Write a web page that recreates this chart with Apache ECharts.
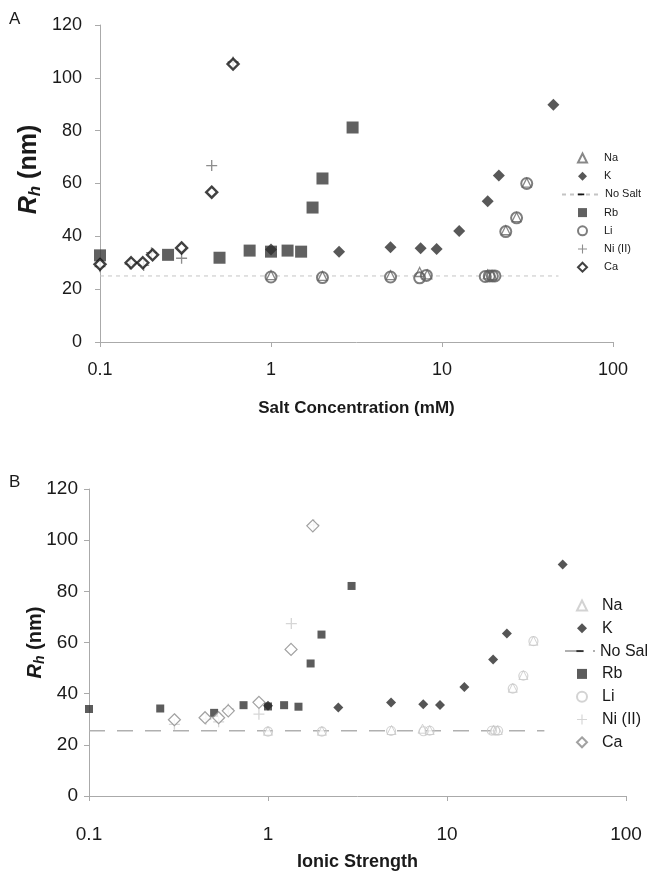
<!DOCTYPE html>
<html>
<head>
<meta charset="utf-8">
<script src="https://cdn.jsdelivr.net/npm/echarts@6/dist/echarts.min.js"></script>
<style>
  html, body { margin: 0; padding: 0; background: #fff; }
  #chart { width: 648px; height: 874px; }
</style>
</head>
<body>
<div id="chart"></div>
<script>
// ---- Panel A: hydrodynamic radius vs salt concentration (mM) ----
const naA = [[1, 25.3], [2, 25], [5, 25.3], [7.4, 26.5], [8.2, 25.6], [18.5, 25.6], [19.6, 25.3], [23.6, 42.3], [27.3, 47.3], [31.3, 60.3]];
const kA = [[1, 35], [2.5, 34.2], [5, 35.9], [7.5, 35.5], [9.3, 35.2], [12.6, 42], [18.5, 53.3], [21.5, 63], [44.8, 89.8]];
const noSaltA = [[0.1, 25], [48, 25]];
const rbA = [[0.1, 32.8], [0.25, 33], [0.5, 31.9], [0.75, 34.6], [1, 34.2], [1.25, 34.6], [1.5, 34.2], [1.75, 50.9], [2, 61.9], [3, 81.2]];
const liA = [[1, 24.6], [2, 24.4], [5, 24.6], [7.4, 24.3], [8.1, 25.2], [17.9, 24.8], [18.9, 25], [19.7, 25], [20.4, 25], [23.6, 41.8], [27.3, 47], [31.3, 60]];
const niA = [[0.1, 28.5], [0.15, 29.5], [0.18, 29], [0.2, 33.8], [0.3, 31.7], [0.45, 66.8], [0.6, 106]];
const caA = [[0.1, 29.4], [0.152, 30], [0.178, 30], [0.203, 33], [0.3, 35.6], [0.45, 56.7], [0.6, 105.2]];

// ---- Panel B: hydrodynamic radius vs ionic strength ----
const naB = [[1, 25.5], [2, 25.5], [4.9, 25.8], [7.3, 26.3], [8, 25.8], [18.2, 26], [19.2, 25.8], [23.3, 42.3], [26.7, 47.3], [30.4, 60.7]];
const kB = [[1, 35.3], [2.47, 34.6], [4.87, 36.5], [7.37, 35.9], [9.14, 35.6], [12.5, 42.6], [18.1, 53.4], [21.6, 63.5], [44.3, 90.5]];
const noSaltB = [[0.1, 25.5], [35, 25.5]];
const rbB = [[0.1, 34], [0.25, 34.2], [0.5, 32.5], [0.73, 35.5], [1, 35], [1.23, 35.5], [1.48, 34.9], [1.73, 51.8], [1.99, 63.1], [2.93, 82.1]];
const liB = [[1, 25.2], [2, 25.2], [4.87, 25.4], [7.4, 25.3], [8, 25.5], [17.8, 25.5], [18.6, 25.5], [19.3, 25.5], [23.3, 42], [26.7, 47], [30.4, 60.5]];
const niB = [[0.3, 28], [0.45, 30], [0.53, 29], [0.6, 34], [0.89, 32], [1.35, 67.4], [1.8, 106]];
const caB = [[0.3, 29.8], [0.445, 30.6], [0.53, 30.6], [0.6, 33.3], [0.89, 36.6], [1.345, 57.3], [1.78, 105.6]];

// legend entries, split so the dashed "No Salt" key can be wider than the marker keys
const legendTop = ['Na', 'K'];
const legendMid = ['No Salt'];
const legendBottom = ['Rb', 'Li', 'Ni (II)', 'Ca'];
const xTicks = [0.1, 1, 10, 100];
const yTicks = [0, 20, 40, 60, 80, 100, 120];

const FONT = '"Liberation Sans", Arial, sans-serif';
const PLUS = 'path://M4.4,0 H5.6 V4.4 H10 V5.6 H5.6 V10 H4.4 V5.6 H0 V4.4 H4.4 Z';
const DASH = 'path://M0,0 M10,10 M0.5,3.8 H9.5 V6.2 H0.5 Z';

function yAxisCfg(gridIndex, fontSize, margin, nameSize, nameGap, namePad) {
  return {
    gridIndex, type: 'value', min: yTicks[0], max: yTicks[yTicks.length - 1], interval: 20,
    axisLine: { show: true, lineStyle: { color: '#aaa', width: 1 } },
    axisTick: { show: true, length: 5, lineStyle: { color: '#aaa' } },
    axisLabel: { fontSize, color: '#1a1a1a', margin, fontFamily: FONT },
    splitLine: { show: false },
    name: '{r|R}{h|h} (nm)',
    nameLocation: 'middle', nameGap, nameRotate: 90, nameMoveOverlap: false,
    nameTextStyle: {
      fontFamily: FONT, fontWeight: 'bold', fontSize: nameSize, color: '#1a1a1a',
      padding: namePad,
      rich: {
        r: { fontFamily: FONT, fontWeight: 'bold', fontStyle: 'italic', fontSize: nameSize, color: '#1a1a1a', lineHeight: nameSize + 4, verticalAlign: 'middle' },
        h: { fontFamily: FONT, fontWeight: 'bold', fontStyle: 'italic', fontSize: Math.round(nameSize * 0.68), color: '#1a1a1a', lineHeight: Math.round(nameSize * 0.68), verticalAlign: 'bottom' }
      }
    }
  };
}

function xAxisCfg(gridIndex, name, fontSize, margin, nameSize, nameGap) {
  return {
    gridIndex, type: 'log', logBase: 10, min: xTicks[0], max: xTicks[xTicks.length - 1],
    axisLine: { show: true, lineStyle: { color: '#aaa', width: 1 } },
    axisTick: { show: true, length: 5, lineStyle: { color: '#aaa' } },
    minorTick: { show: false },
    axisLabel: { fontSize, color: '#1a1a1a', margin, fontFamily: FONT,
      formatter: v => String(v) },
    splitLine: { show: false },
    name, nameLocation: 'middle', nameGap, nameMoveOverlap: false,
    nameTextStyle: { fontFamily: FONT, fontWeight: 'bold', fontSize: nameSize, color: '#1a1a1a' }
  };
}

function scatter(name, idx, data, symbol, size, itemStyle, z) {
  return { name, type: 'scatter', xAxisIndex: idx, yAxisIndex: idx, data, symbol, symbolSize: size,
    itemStyle, z: z || 2, silent: true };
}

function noSalt(name, idx, data, lineStyle, symbolColor) {
  return {
    name, type: 'line', xAxisIndex: idx, yAxisIndex: idx,
    data: data.map(p => ({ value: p, symbol: 'none' })),
    symbol: DASH, symbolSize: 8, lineStyle, itemStyle: { color: symbolColor },
    silent: true, z: 1, animation: false
  };
}

function legendBlock(prefix, names, left, top, iconW, iconH, gap, fontSize, textPad) {
  return {
    orient: 'vertical', left, top, padding: 0, itemWidth: iconW, itemHeight: iconH, itemGap: gap,
    data: names.map(n => prefix + n), formatter: n => n.slice(2),
    textStyle: { fontFamily: FONT, fontSize, lineHeight: fontSize + 1, color: '#1a1a1a', padding: [0, 0, 0, textPad] },
    selectedMode: false
  };
}

const series = [
  // Panel A
  scatter('A:Na', 0, naA, 'triangle', 9, { color: '#fff', borderColor: '#6a6a6a', borderWidth: 1.3 }, 3),
  scatter('A:K', 0, kA, 'diamond', 12, { color: '#2e2e2e' }, 3),
  noSalt('A:No Salt', 0, noSaltA, { color: '#c4c4c4', width: 1, type: [4, 4] }, '#111'),
  scatter('A:Rb', 0, rbA, 'rect', 12, { color: '#3a3a3a' }, 2),
  scatter('A:Li', 0, liA, 'circle', 11, { color: 'rgba(255,255,255,0)', borderColor: '#5e5e5e', borderWidth: 2 }, 4),
  scatter('A:Ni (II)', 0, niA, PLUS, 11, { color: '#707070' }, 4),
  scatter('A:Ca', 0, caA, 'diamond', 11, { color: '#fff', borderColor: '#111', borderWidth: 2.4 }, 5),
  // Panel B
  scatter('B:Na', 1, naB, 'triangle', 9, { color: '#fff', borderColor: '#c8c8c8', borderWidth: 1 }, 3),
  scatter('B:K', 1, kB, 'diamond', 10, { color: '#2a2a2a' }, 3),
  noSalt('B:No Salt', 1, noSaltB, { color: '#b0b0b0', width: 1.6, type: [16, 12] }, '#333'),
  scatter('B:Rb', 1, rbB, 'rect', 8, { color: '#333' }, 2),
  scatter('B:Li', 1, liB, 'circle', 9, { color: 'rgba(255,255,255,0)', borderColor: '#c8c8c8', borderWidth: 1.2 }, 4),
  scatter('B:Ni (II)', 1, niB, PLUS, 11, { color: '#cccccc' }, 4),
  scatter('B:Ca', 1, caB, 'diamond', 12, { color: '#fff', borderColor: '#8a8a8a', borderWidth: 1.2 }, 5)
];

const chart = echarts.init(document.getElementById('chart'), null, { renderer: 'canvas' });
chart.setOption({
  animation: false,
  backgroundColor: '#fff',
  grid: [
    { left: 100, right: 35, top: 25, bottom: 532, containLabel: false },
    { left: 89, right: 22, top: 489, bottom: 78, containLabel: false }
  ],
  xAxis: [
    xAxisCfg(0, 'Salt Concentration (mM)', 18, 19, 17, 58),
    xAxisCfg(1, 'Ionic Strength', 19, 29, 18, 57)
  ],
  yAxis: [
    yAxisCfg(0, 18, 18, 25, 56, [0, 0, 0, 28]),
    yAxisCfg(1, 19, 11, 20, 42, [0, 0, 0, 0])
  ],
  legend: [
    // panel A keys: 18.2 px pitch
    legendBlock('A:', legendTop, 577, 152, 9, 9, 6.2, 11, 12),
    legendBlock('A:', legendMid, 561, 188.4, 38, 9, 6.2, 11, 0),
    legendBlock('A:', legendBottom, 577, 206.6, 9, 9, 6.2, 11, 12),
    // panel B keys: 22.8 px pitch
    legendBlock('B:', legendTop, 576, 597, 10, 10, 5.8, 16, 10),
    legendBlock('B:', legendMid, 564, 642.6, 30, 10, 5.8, 16, 0),
    legendBlock('B:', legendBottom, 576, 665.4, 10, 10, 5.8, 16, 10)
  ],
  graphic: [
    { type: 'text', left: 9, top: 11, style: { text: 'A', font: '17px ' + FONT, fill: '#1a1a1a' } },
    { type: 'text', left: 9, top: 474, style: { text: 'B', font: '17px ' + FONT, fill: '#1a1a1a' } }
  ],
  series
});
</script>
</body>
</html>
